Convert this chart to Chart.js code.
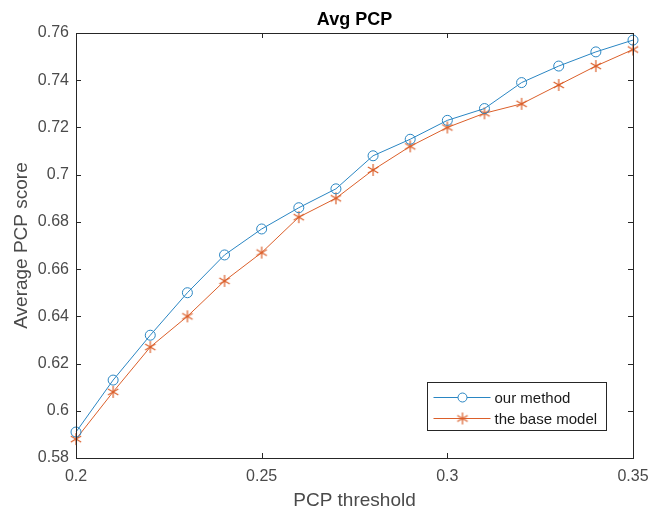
<!DOCTYPE html>
<html>
<head>
<meta charset="utf-8">
<script src="https://cdn.jsdelivr.net/npm/chart.js@4.4.1/dist/chart.umd.min.js"></script>
<style>
  html, body { margin: 0; padding: 0; background: #ffffff; }
  #wrap { width: 662px; height: 510px; }
</style>
</head>
<body>
<div id="wrap"><canvas id="c" width="662" height="510"></canvas></div>
<script>
// ---- data ----
const thresholds = [0.20, 0.21, 0.22, 0.23, 0.24, 0.25, 0.26, 0.27, 0.28, 0.29, 0.30, 0.31, 0.32, 0.33, 0.34, 0.35];
const ourMethod = [0.591, 0.613, 0.632, 0.650, 0.666, 0.677, 0.686, 0.694, 0.708, 0.715, 0.723, 0.728, 0.739, 0.746, 0.752, 0.757];
const baseModel = [0.588, 0.608, 0.627, 0.640, 0.655, 0.667, 0.682, 0.690, 0.702, 0.712, 0.720, 0.726, 0.730, 0.738, 0.746, 0.753];
const xTickValues = [0.2, 0.25, 0.3, 0.35];
const yTickValues = [0.58, 0.6, 0.62, 0.64, 0.66, 0.68, 0.7, 0.72, 0.74, 0.76];
const seriesLabels = ['our method', 'the base model'];
const chartTitle = 'Avg PCP';
const xTitle = 'PCP threshold';
const yTitle = 'Average PCP score';

// ---- styles ----
const BLUE = '#2a86c3';
const ORANGE = '#db5f2a';
const AXIS = '#262626';
const TICKTXT = '#4a4a4a';
const FONT = "'Liberation Sans', Arial, Helvetica, sans-serif";

// MATLAB-like asterisk marker
function makeAsterisk(color, r) {
  const s = r * 2 + 4;
  const cv = document.createElement('canvas');
  cv.width = s; cv.height = s;
  const g = cv.getContext('2d');
  g.strokeStyle = color; g.lineWidth = 1.2;
  const c = s / 2;
  g.beginPath();
  for (let k = 0; k < 3; k++) {
    const a = Math.PI / 2 + k * Math.PI / 3;
    g.moveTo(c + r * Math.cos(a), c + r * Math.sin(a));
    g.lineTo(c - r * Math.cos(a), c - r * Math.sin(a));
  }
  g.stroke();
  return cv;
}
const starImg = makeAsterisk(ORANGE, 6);

const frame = {
  id: 'frame',
  afterDatasetsDraw(chart) {
    const ctx = chart.ctx;
    const a = chart.chartArea;
    const xs = chart.scales.x, ys = chart.scales.y;
    ctx.save();
    ctx.strokeStyle = AXIS;
    ctx.lineWidth = 1;
    ctx.strokeRect(Math.round(a.left) + 0.5, Math.round(a.top) + 0.5, Math.round(a.right - a.left), Math.round(a.bottom - a.top));
    const tl = 5;
    ctx.beginPath();
    xs.ticks.forEach(t => {
      const px = Math.round(xs.getPixelForValue(t.value)) + 0.5;
      ctx.moveTo(px, a.bottom); ctx.lineTo(px, a.bottom - tl);
      ctx.moveTo(px, a.top); ctx.lineTo(px, a.top + tl);
    });
    ys.ticks.forEach(t => {
      const py = Math.round(ys.getPixelForValue(t.value)) + 0.5;
      ctx.moveTo(a.left, py); ctx.lineTo(a.left + tl, py);
      ctx.moveTo(a.right, py); ctx.lineTo(a.right - tl, py);
    });
    ctx.stroke();

    // legend box
    const bw = 179, bh = 48;
    const bx = Math.round(a.right - 27 - bw) + 0.5;
    const by = Math.round(a.bottom - 28 - bh) + 0.5;
    ctx.fillStyle = '#ffffff';
    ctx.fillRect(bx, by, bw, bh);
    ctx.strokeStyle = AXIS;
    ctx.strokeRect(bx, by, bw, bh);
    ctx.font = "15px " + FONT;
    ctx.textBaseline = 'middle';
    ctx.textAlign = 'left';
    chart.data.datasets.forEach((ds, i) => {
      const ry = Math.round(by + 14 + i * 21) + 0.5;
      ctx.strokeStyle = ds.borderColor;
      ctx.lineWidth = 1;
      ctx.beginPath();
      ctx.moveTo(bx + 6, ry); ctx.lineTo(bx + 63, ry);
      ctx.stroke();
      const mx = bx + 35;
      if (i === 0) {
        ctx.beginPath();
        ctx.arc(mx, ry, 4.5, 0, Math.PI * 2);
        ctx.fillStyle = '#ffffff';
        ctx.fill();
        ctx.stroke();
      } else {
        ctx.drawImage(starImg, mx - starImg.width / 2, ry - starImg.height / 2);
      }
      ctx.fillStyle = '#1a1a1a';
      ctx.fillText(ds.label, bx + 67, ry + 1);
    });
    ctx.restore();
  }
};

new Chart(document.getElementById('c'), {
  type: 'line',
  data: {
    datasets: [
      {
        label: seriesLabels[0],
        data: thresholds.map((x, i) => ({ x: x, y: ourMethod[i] })),
        borderColor: BLUE,
        backgroundColor: 'rgba(0,0,0,0)',
        borderWidth: 1,
        pointStyle: 'circle',
        pointRadius: 5,
        pointBorderWidth: 1,
        pointBorderColor: BLUE,
        pointBackgroundColor: 'rgba(0,0,0,0)',
        tension: 0
      },
      {
        label: seriesLabels[1],
        data: thresholds.map((x, i) => ({ x: x, y: baseModel[i] })),
        borderColor: ORANGE,
        backgroundColor: 'rgba(0,0,0,0)',
        borderWidth: 1,
        pointStyle: starImg,
        pointRadius: 6,
        tension: 0
      }
    ]
  },
  options: {
    responsive: false,
    animation: false,
    clip: false,
    layout: { padding: { left: 0, right: 29, top: 0, bottom: 0 } },
    plugins: {
      legend: { display: false },
      tooltip: { enabled: false },
      title: { display: false }
    },
    scales: {
      x: {
        type: 'linear',
        position: 'bottom',
        min: 0.2, max: 0.35,
        afterBuildTicks: s => { s.ticks = xTickValues.map(v => ({ value: v })); },
        afterFit: s => { s.height = 52; },
        grid: { display: false, drawTicks: false },
        border: { display: false },
        ticks: {
          color: TICKTXT,
          font: { family: FONT, size: 16 },
          padding: 9,
          maxRotation: 0,
          callback: v => String(parseFloat(Number(v).toFixed(2)))
        },
        title: {
          display: true,
          text: xTitle,
          color: TICKTXT,
          font: { family: FONT, size: 19, lineHeight: 1 },
          padding: { top: 0, bottom: 0 }
        }
      },
      xTop: {
        type: 'linear',
        position: 'top',
        min: 0.2, max: 0.35,
        afterFit: s => { s.height = 33; },
        grid: { display: false, drawTicks: false },
        border: { display: false },
        ticks: { display: false },
        title: {
          display: true,
          text: chartTitle,
          color: '#000000',
          font: { family: FONT, size: 18, weight: 'bold', lineHeight: 1 },
          padding: { top: 11, bottom: 0 }
        }
      },
      y: {
        type: 'linear',
        min: 0.58, max: 0.76,
        afterBuildTicks: s => { s.ticks = yTickValues.map(v => ({ value: v })); },
        afterFit: s => { s.width = 76; },
        grid: { display: false, drawTicks: false },
        border: { display: false },
        ticks: {
          color: TICKTXT,
          font: { family: FONT, size: 16 },
          padding: 7,
          callback: v => String(parseFloat(Number(v).toFixed(2)))
        },
        title: {
          display: true,
          text: yTitle,
          color: TICKTXT,
          font: { family: FONT, size: 19, lineHeight: 1 },
          padding: { top: 12, bottom: 0 }
        }
      }
    }
  },
  plugins: [frame]
});
</script>
</body>
</html>
